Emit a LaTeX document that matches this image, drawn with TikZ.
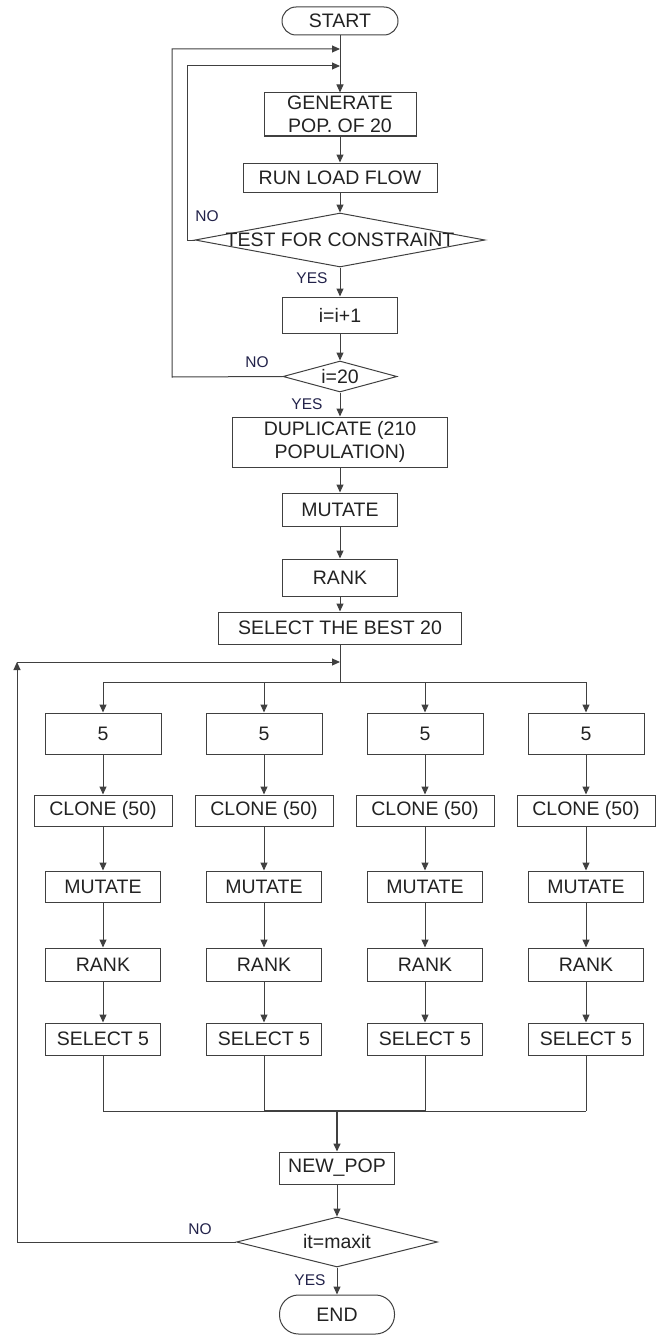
\documentclass[tikz,border=0pt]{standalone}
\usepackage{fontspec}
\setmainfont{Liberation Sans}
\usetikzlibrary{shapes.geometric,arrows.meta}
\definecolor{lncol}{HTML}{404040}
\definecolor{txcol}{HTML}{222222}
\definecolor{lbcol}{HTML}{22224A}
\begin{document}
\begin{tikzpicture}[x=1pt,y=-1pt,
  every node/.style={font=\fontsize{19.5}{23}\selectfont, text=txcol, inner sep=0pt},
  box/.style={draw=lncol, line width=1pt, rectangle, align=center},
  dia/.style={draw=lncol, line width=1pt, diamond, inner sep=0pt},
  lbl/.style={font=\fontsize{15.5}{18}\selectfont, text=lbcol},
  wire/.style={draw=lncol, line width=1pt},
  arr/.style={draw=lncol, line width=1pt, -{Triangle[length=8pt,width=7pt]}}
]
\useasboundingbox (0,0) rectangle (666,1335);

% main column
\node[box, rounded corners=14pt, minimum width=116pt, minimum height=28pt] (start) at (340,21) {START};
\node[box, minimum width=152pt, minimum height=43pt] (gen) at (340,114.5) {GENERATE\\POP. OF 20};
\node[box, minimum width=194pt, minimum height=29pt] (run) at (340,177.5) {RUN LOAD FLOW};
\node[dia, minimum width=290pt, minimum height=54pt, label=center:{TEST FOR CONSTRAINT}] (test) at (340,240) {};
\node[box, minimum width=115pt, minimum height=36pt] (inc) at (340,315) {i=i+1};
\node[dia, minimum width=114pt, minimum height=31pt, label=center:{i=20}] (chk) at (340,376.5) {};
\node[box, minimum width=215pt, minimum height=50pt] (dup) at (340,442) {DUPLICATE (210\\POPULATION)};
\node[box, minimum width=115pt, minimum height=33pt] (mut) at (340,509.5) {MUTATE};
\node[box, minimum width=115pt, minimum height=37pt] (rank) at (340,577.5) {RANK};
\node[box, minimum width=243pt, minimum height=32pt] (best) at (340,628) {SELECT THE BEST 20};

% columns
\foreach \i/\cx in {1/103,2/264,3/425,4/586} {
  \node[box, minimum width=116pt, minimum height=41pt] (f\i) at (\cx,733.5) {5};
  \node[box, minimum width=138pt, minimum height=31pt] (c\i) at (\cx,810.5) {CLONE (50)};
  \node[box, minimum width=115pt, minimum height=31pt] (m\i) at (\cx,886.5) {MUTATE};
  \node[box, minimum width=115pt, minimum height=33pt] (r\i) at (\cx,964.5) {RANK};
  \node[box, minimum width=115pt, minimum height=32pt] (s\i) at (\cx,1039) {SELECT 5};
}

\node[box, minimum width=115pt, minimum height=32pt] (np) at (337,1168) {NEW\_POP};
\node[dia, minimum width=201pt, minimum height=50pt, label=center:{it=maxit}] (fin) at (337,1242) {};
\node[box, rounded corners=19pt, minimum width=115pt, minimum height=39pt] (stop) at (337,1314.5) {END};

% labels
\node[lbl] (no1) at (207,216) {NO};
\node[lbl] (yes1) at (312,278) {YES};
\node[lbl] (no2) at (257,362) {NO};
\node[lbl] (yes2) at (307,404) {YES};
\node[lbl] (no3) at (200,1229) {NO};
\node[lbl] (yes3) at (310,1280) {YES};

% coordinates
\coordinate (o1) at (172,377);
\coordinate (o2) at (172,49);
\coordinate (o3) at (340,49);
\coordinate (i1) at (187,240);
\coordinate (i2) at (187,66);
\coordinate (i3) at (340,66);
\coordinate (lp) at (340,662);
\coordinate (sp) at (340,682);
\coordinate (jn) at (337,1111);
\coordinate (b1) at (17,1242);
\coordinate (b2) at (17,662);

% main arrows
\draw[arr] (start.south) -- (gen.north);
\draw[arr] (gen.south) -- (run.north);
\draw[arr] (run.south) -- (test.north);
\draw[arr] (test.south) -- (inc.north);
\draw[arr] (inc.south) -- (chk.north);
\draw[arr] (chk.south) -- (dup.north);
\draw[arr] (dup.south) -- (mut.north);
\draw[arr] (mut.south) -- (rank.north);
\draw[arr] (rank.south) -- (best.north);

% loops
\draw[arr] (test.west) -- (i1) -- (i2) -- (i3);
\draw[arr] (chk.west) -- (o1) -- (o2) -- (o3);

% split
\draw[wire] (best.south) -- (sp);
\draw[wire] (f1.north |- sp) -- (f4.north |- sp);
\foreach \i in {1,2,3,4} {
  \draw[arr] (f\i.north |- sp) -- (f\i.north);
  \draw[arr] (f\i.south) -- (c\i.north);
  \draw[arr] (c\i.south) -- (m\i.north);
  \draw[arr] (m\i.south) -- (r\i.north);
  \draw[arr] (r\i.south) -- (s\i.north);
  \draw[wire] (s\i.south) -- (s\i.south |- jn);
}
\draw[wire] (s1.south |- jn) -- (s4.south |- jn);
\draw[wire, line width=1.5pt] (s2.south |- jn) -- (s3.south |- jn);
\draw[arr, line width=1.5pt] (jn) -- (np.north);
\draw[arr] (np.south) -- (fin.north);
\draw[arr] (fin.south) -- (stop.north);

% outer loop
\draw[arr] (fin.west) -- (b1) -- (b2);
\draw[arr] (b2) -- (lp);
\end{tikzpicture}
\end{document}
